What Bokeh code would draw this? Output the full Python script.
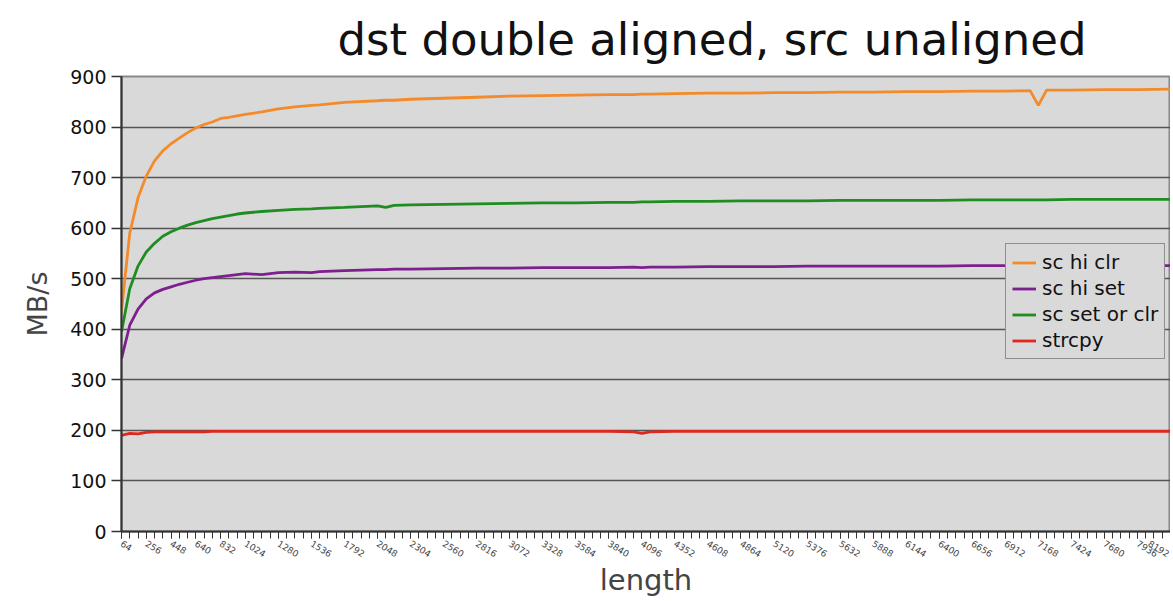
from bokeh.plotting import figure
from bokeh.models import FixedTicker, Legend, LegendItem, Range1d, Title
from bokeh.embed import file_html
from bokeh.resources import INLINE

lengths = [64, 128, 192, 256, 320, 384, 448, 512, 576, 640, 704, 768, 832, 896, 960, 1024,
           1152, 1280, 1408, 1536, 1600, 1792, 2048, 2112, 2176, 2304, 2560, 2816, 3072, 3328,
           3584, 3840, 4032, 4096, 4160, 4352, 4608, 4864, 5120, 5376, 5632, 5888, 6144, 6400,
           6656, 6912, 7104, 7168, 7232, 7424, 7680, 7936, 8192]

sc_hi_clr = [437, 590, 660, 703, 733, 753, 767, 778, 789, 798, 805, 810, 817, 819, 822, 825,
             830, 836, 840, 843, 844, 849, 852, 853, 853, 855, 857, 859, 861, 862,
             863, 864, 864, 865, 865, 866, 867, 867, 868, 868, 869, 869, 870, 870,
             871, 871, 872, 843, 873, 873, 874, 874, 875]

sc_hi_set = [342, 408, 440, 460, 472, 479, 484, 489, 493, 497, 500, 502, 504, 506, 508, 510,
             508, 512, 513, 512, 514, 516, 518, 518, 519, 519, 520, 521, 521, 522,
             522, 522, 523, 522, 523, 523, 524, 524, 524, 525, 525, 525, 525, 525,
             526, 526, 526, 526, 526, 526, 526, 526, 526]

sc_set_or_clr = [395, 480, 525, 553, 570, 584, 593, 600, 606, 611, 615, 619, 622, 625, 628, 630,
                 633, 635, 637, 638, 639, 641, 644, 641, 645, 646, 647, 648, 649, 650,
                 650, 651, 651, 652, 652, 653, 653, 654, 654, 654, 655, 655, 655, 655,
                 656, 656, 656, 656, 656, 657, 657, 657, 657]

strcpy = [190, 194, 193, 196, 197, 197, 197, 197, 197, 197, 197, 198, 198, 198, 198, 198,
          198, 198, 198, 198, 198, 198, 198, 198, 198, 198, 198, 198, 198, 198,
          198, 198, 197, 194, 197, 198, 198, 198, 198, 198, 198, 198, 198, 198,
          198, 198, 198, 198, 198, 198, 198, 198, 198]

x_tick_labels = [64, 256, 448, 640, 832, 1024, 1280, 1536, 1792, 2048, 2304, 2560, 2816, 3072,
                 3328, 3584, 3840, 4096, 4352, 4608, 4864, 5120, 5376, 5632, 5888, 6144, 6400,
                 6656, 6912, 7168, 7424, 7680, 7936, 8192]
x_minor = list(range(64, 8193, 64))
y_ticks = [0, 100, 200, 300, 400, 500, 600, 700, 800, 900]

series = [("sc hi clr", sc_hi_clr, "#f38b2b"),
          ("sc hi set", sc_hi_set, "#7d1f8f"),
          ("sc set or clr", sc_set_or_clr, "#1f8d22"),
          ("strcpy", strcpy, "#e0261f")]

FONT = "DejaVu Sans"

p = figure(width=1170, height=600, output_backend="svg", toolbar_location=None,
           x_range=Range1d(64, 8192), y_range=Range1d(0, 900),
           min_border_left=121, min_border_right=0, min_border_top=75, min_border_bottom=68)
p.title = None
p.add_layout(Title(text="dst double aligned, src unaligned", text_font=FONT,
                   text_font_size="45px", text_font_style="normal", align="left",
                   offset=216, text_color="#111111", standoff=21), "above")

p.background_fill_color = "#d9d9d9"
p.border_fill_color = "white"
p.outline_line_color = "#888888"
p.outline_line_width = 2

p.xgrid.grid_line_color = None
p.ygrid.grid_line_color = "#555555"
p.ygrid.grid_line_width = 1.6
p.ygrid.ticker = FixedTicker(ticks=y_ticks)

p.yaxis.ticker = FixedTicker(ticks=y_ticks)
p.yaxis.axis_label = "MB/s"
p.yaxis.axis_label_text_font = FONT
p.yaxis.axis_label_text_font_size = "27px"
p.yaxis.axis_label_text_font_style = "normal"
p.yaxis.axis_label_standoff = 14
p.yaxis.major_label_text_font = FONT
p.yaxis.major_label_text_font_size = "19px"
p.yaxis.major_label_text_color = "#111111"
p.yaxis.major_tick_out = 10
p.yaxis.major_tick_in = 0
p.yaxis.major_tick_line_color = "#333333"
p.yaxis.major_tick_line_width = 1.5
p.yaxis.minor_tick_line_color = None
p.yaxis.axis_line_color = "#333333"
p.yaxis.axis_line_width = 2

p.xaxis.ticker = FixedTicker(ticks=x_tick_labels, minor_ticks=x_minor)
p.xaxis.axis_label = "length"
p.xaxis.axis_label_text_font = FONT
p.xaxis.axis_label_text_font_size = "29px"
p.xaxis.axis_label_text_font_style = "normal"
p.xaxis.axis_label_standoff = 0
p.xaxis.major_label_standoff = 4
p.xaxis.major_label_text_font = FONT
p.xaxis.major_label_text_font_size = "9px"
p.xaxis.major_label_text_color = "#444444"
p.xaxis.major_label_orientation = -0.55
p.xaxis.major_tick_out = 7
p.xaxis.major_tick_in = 0
p.xaxis.minor_tick_out = 7
p.xaxis.minor_tick_in = 0
p.xaxis.major_tick_line_color = "#333333"
p.xaxis.minor_tick_line_color = "#333333"
p.xaxis.axis_line_color = "#333333"
p.xaxis.axis_line_width = 2

items = []
for name, vals, color in series:
    r = p.line(lengths, vals, line_color=color, line_width=2.8)
    items.append(LegendItem(label=name, renderers=[r]))

legend = Legend(items=items, location=(884, 172), background_fill_color="#d9d9d9",
                background_fill_alpha=1.0, border_line_color="#444444", border_line_width=1.2,
                label_text_font=FONT, label_text_font_size="20px", label_text_color="#111111",
                glyph_width=24, glyph_height=21, label_height=21, spacing=2, padding=6,
                margin=0, label_standoff=6)
p.add_layout(legend, "center")

open("out.html", "w").write(file_html(p, INLINE))
